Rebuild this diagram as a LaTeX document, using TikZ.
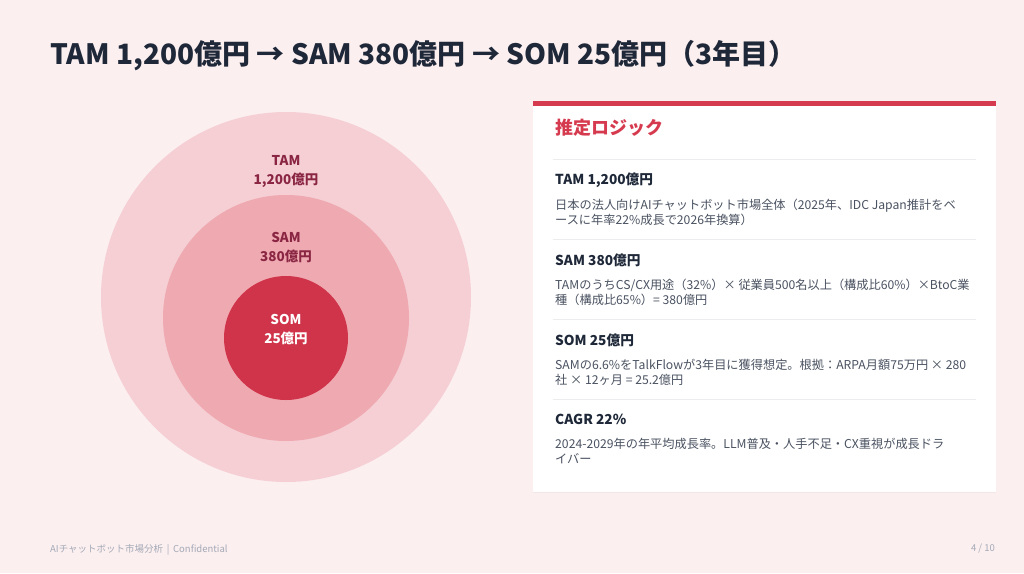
\documentclass[tikz,border=0pt]{standalone}
\usepackage{fontspec}
\setmainfont{Noto Sans CJK JP}
\usetikzlibrary{positioning,shadows}
\definecolor{bgpink}{HTML}{FCEFF0}
\definecolor{tamfill}{HTML}{F5CFD4}
\definecolor{samfill}{HTML}{EFA9B1}
\definecolor{somfill}{HTML}{D0344A}
\definecolor{marketink}{HTML}{8A2643}
\definecolor{titleink}{HTML}{1E2838}
\definecolor{accent}{HTML}{D63A4E}
\definecolor{bodyink}{HTML}{4A5261}
\definecolor{ruleink}{HTML}{ECECEF}
\definecolor{footink}{HTML}{A3A9B6}
\tikzset{
  market/.style  = {circle, draw=none, inner sep=0pt},
  marketlabel/.style = {font=\bfseries\fontsize{13.5}{19}\selectfont, align=center,
                   text=marketink, inner sep=0pt},
  panel/.style   = {rectangle, fill=white, draw=none, inner sep=0pt,
                   drop shadow={shadow xshift=0pt, shadow yshift=-1pt, opacity=0.08}},
  sechead/.style = {font=\bfseries\fontsize{13.7}{16}\selectfont, text=titleink,
                   anchor=west, inner sep=0pt},
  secbody/.style = {font=\fontsize{12.2}{15}\selectfont, text=bodyink,
                   anchor=north west, align=left, inner sep=0pt},
  foot/.style    = {font=\fontsize{9.5}{11}\selectfont, text=footink, inner sep=0pt}
}

\begin{document}
\begin{tikzpicture}[x=1pt, y=-1pt]

% page background
\fill[bgpink] (0,0) rectangle (1024,573);
\useasboundingbox (0,0) rectangle (1024,573);

% title
\node[font=\bfseries\fontsize{28}{30}\selectfont, text=titleink, anchor=west,
      inner sep=0pt] (title) at (50,56)
  {TAM 1,200億円 → SAM 380億円 → SOM 25億円（3年目）};

% nested market circles
\node[market, fill=tamfill, minimum size=370pt] (tam) at (286,297) {};
\node[market, fill=samfill, minimum size=246pt] (sam) at (286,318) {};
\node[market, fill=somfill, minimum size=124pt] (som) at (286,338) {};

\node[marketlabel] (tamlabel) at (286,171) {TAM\\1,200億円};
\node[marketlabel] (samlabel) at (286,248) {SAM\\380億円};
\node[marketlabel, text=white] (somlabel) at (286,330) {SOM\\25億円};

% logic panel on the right
\node[panel, minimum width=463pt, minimum height=391pt, anchor=north west]
  (logic) at (533,101) {};
\fill[accent] (logic.north west) rectangle ([yshift=-5pt]logic.north east);

\node[font=\bfseries\fontsize{18}{20}\selectfont, text=accent, anchor=west,
      inner sep=0pt] (logichead) at (555,128) {推定ロジック};

% separators between the four items
\foreach \y in {159,239,319,399}
  \draw[ruleink, line width=0.8pt] (553,\y) -- (976,\y);

\begin{scope}[every node/.style={secbody}]
\node[sechead] (h1) at (555,180) {TAM 1,200億円};
\node[below=19pt of h1.west, anchor=north west] (b1)
  {日本の法人向けAIチャットボット市場全体（2025年、IDC Japan推計をベ\\ースに年率22\%成長で2026年換算）};

\node[sechead] (h2) at (555,260) {SAM 380億円};
\node[below=19pt of h2.west, anchor=north west] (b2)
  {TAMのうちCS/CX用途（32\%）× 従業員500名以上（構成比60\%）×BtoC業\\種（構成比65\%）= 380億円};

\node[sechead] (h3) at (555,340) {SOM 25億円};
\node[below=19pt of h3.west, anchor=north west] (b3)
  {SAMの6.6\%をTalkFlowが3年目に獲得想定。根拠：ARPA月額75万円 × 280\\社 × 12ヶ月 = 25.2億円};

\node[sechead] (h4) at (555,419) {CAGR 22\%};
\node[below=19pt of h4.west, anchor=north west] (b4)
  {2024-2029年の年平均成長率。LLM普及・人手不足・CX重視が成長ドラ\\イバー};
\end{scope}

% footer
\node[foot, anchor=west] (footl) at (50,550) {AIチャットボット市場分析 \,|\, Confidential};
\node[foot, anchor=east] (footr) at (995,549) {4 / 10};

\end{tikzpicture}
\end{document}
